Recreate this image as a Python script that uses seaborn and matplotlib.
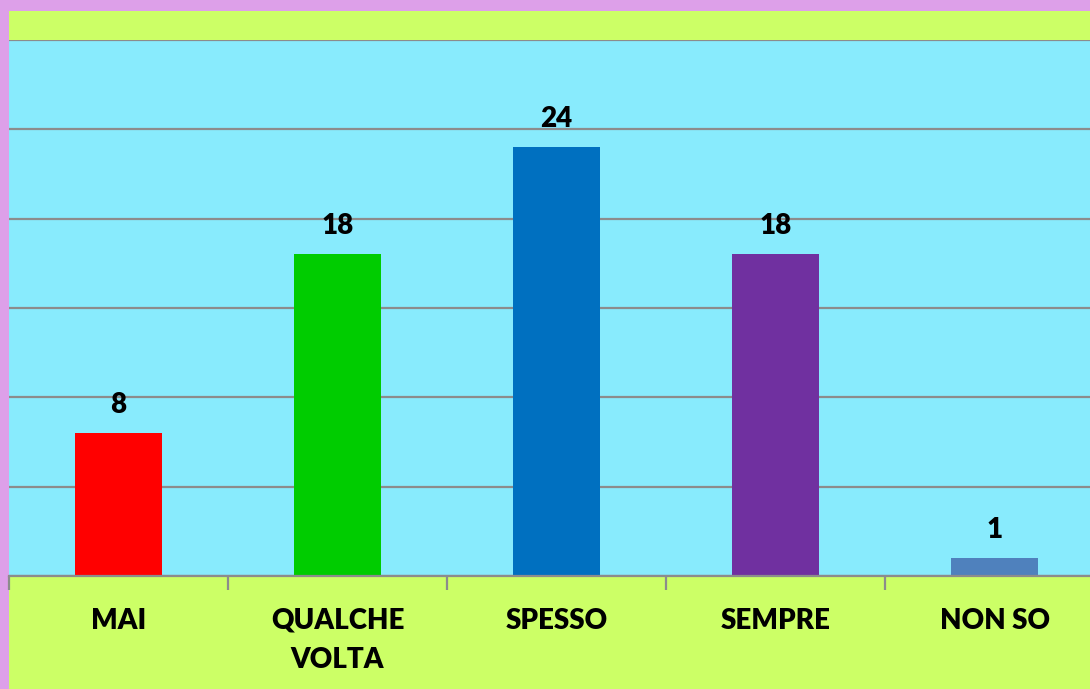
import matplotlib
matplotlib.use("Agg")
import matplotlib.pyplot as plt
import seaborn as sns
import pandas as pd
from matplotlib.patches import Rectangle

categories = ["MAI", "QUALCHE\nVOLTA", "SPESSO", "SEMPRE", "NON SO"]
values = [8, 18, 24, 18, 1]
bar_colors = ["#FF0000", "#00CC00", "#0070C0", "#7030A0", "#4F81BD"]

sns.set_theme(style="white")
plt.rcParams["font.family"] = ["Lato", "DejaVu Sans"]

df = pd.DataFrame({"risposta": categories, "n": values})

W, H = 1090, 689
fig = plt.figure(figsize=(W / 100, H / 100), dpi=100)
fig.patch.set_facecolor("#DDA0E9")
# lime background inside the pink frame
fig.patches.append(Rectangle((9 / W, 0), 1 - 9 / W, (H - 11) / H,
                             transform=fig.transFigure, facecolor="#CCFF66",
                             edgecolor="none", zorder=-10))

ax = fig.add_axes([9 / W, 113 / H, 1095 / W, 536 / H])
ax.set_zorder(5)
ax.set_facecolor("#88EBFD")

sns.barplot(data=df, x="risposta", y="n", hue="risposta", palette=bar_colors,
            width=0.4, legend=False, saturation=1, linewidth=0, ax=ax, zorder=3)

ax.set_xlim(-0.5, 4.5)
ax.set_ylim(0, 30)
ax.set_yticks(range(0, 31, 5))
ax.set_yticklabels([])
ax.tick_params(axis="y", length=0)
ax.grid(axis="y", color="#8C8C8C", linewidth=1.6, zorder=1)
ax.set_axisbelow(True)

for s in ["top", "right", "left"]:
    ax.spines[s].set_visible(False)
ax.spines["bottom"].set_color("#8C8C8C")
ax.spines["bottom"].set_linewidth(1.6)
ax.spines["bottom"].set_zorder(4)

ax.set_xticks([-0.5, 0.5, 1.5, 2.5, 3.5], minor=False)
ax.set_xticklabels([])
ax.tick_params(axis="x", which="major", bottom=True, length=10, width=1.6,
               color="#8C8C8C", direction="out")
ax.set_xticks(range(len(categories)), minor=True)
ax.set_xticklabels(categories, minor=True, fontsize=20, fontweight="heavy",
                   color="black", linespacing=1.6, va="top")
ax.tick_params(axis="x", which="minor", bottom=True, length=0, pad=23)
ax.set_xlabel("")
ax.set_ylabel("")

for i, v in enumerate(values):
    ax.annotate(str(v), (i, v), xytext=(0, 11), textcoords="offset points",
                ha="center", va="bottom", fontsize=20, fontweight="heavy",
                color="black")

fig.savefig("out.png", dpi=100, facecolor=fig.get_facecolor())
